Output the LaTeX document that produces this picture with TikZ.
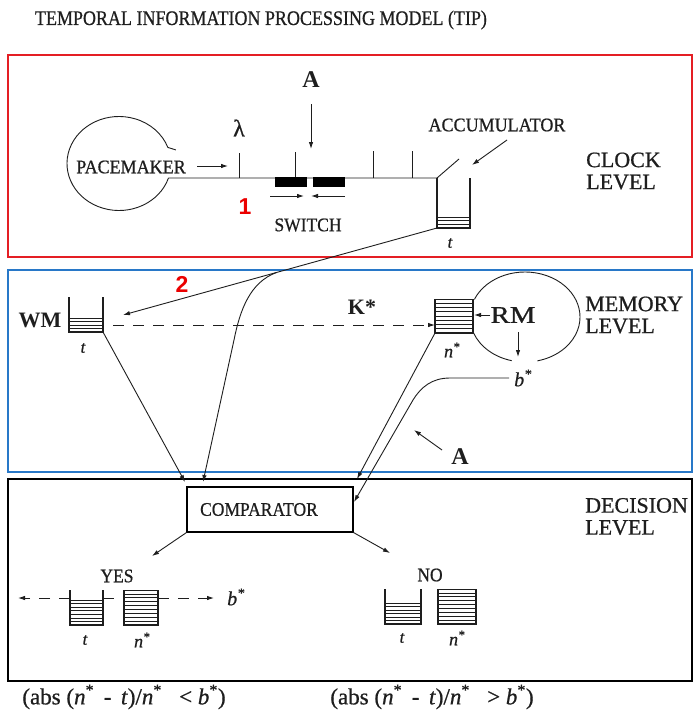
\documentclass[tikz,border=0pt]{standalone}
\usepackage{fontspec}
\setmainfont{Liberation Serif}[UprightFeatures={FakeBold=0.7},ItalicFeatures={FakeBold=0.7}]
\newfontfamily\labfont{Liberation Sans}
\usetikzlibrary{arrows.meta,calc}
\definecolor{boxred}{RGB}{228,30,36}
\definecolor{boxblue}{RGB}{40,120,200}
\definecolor{numred}{RGB}{235,0,0}
\definecolor{ink}{RGB}{30,30,30}
\newcommand{\tipbucket}[7]{%
 \coordinate (#1-tl) at (#2,#4);
 \coordinate (#1-tr) at (#3,#4);
 \coordinate (#1-bl) at (#2,#5);
 \coordinate (#1-br) at (#3,#5);
 \draw[wall] (#1-tl) -- (#1-bl) -- (#1-br) -- (#1-tr);
 \foreach \i in {1,...,#7}{\draw[fillline] (#2,{#5-\i*(#5-#6)/#7}) -- (#3,{#5-\i*(#5-#6)/#7});}
}
\begin{document}
\begin{tikzpicture}[x=1pt,y=-1pt,
  every node/.style={inner sep=0pt, text=ink},
  wall/.style={ink, line width=1.3pt},
  fillline/.style={ink, line width=0.6pt},
  conn/.style={ink, line width=0.9pt},
  arr/.style={conn, -{Latex[length=7pt,width=4.5pt]}},
  dasharr/.style={arr, dash pattern=on 11pt off 9pt},
  dashline/.style={conn, dash pattern=on 11pt off 9pt},
  small/.style={font=\fontsize{17.5}{20}\selectfont},
  lvl/.style={font=\fontsize{22}{22}\selectfont, align=left, anchor=west},
  bigA/.style={font=\fontsize{24}{24}\selectfont\bfseries},
  var/.style={font=\fontsize{18}{18}\selectfont\itshape},
  num/.style={font=\fontsize{23}{23}\selectfont\labfont\bfseries, text=numred},
  levelbox/.style={line width=1.3pt},
]
\useasboundingbox (0,0) rectangle (694,717);
\fill[white] (0,0) rectangle (694,717);

% title
\node[font=\fontsize{18}{18}\selectfont] (title) at (261,20) {\scalebox{1}[1.15]{TEMPORAL INFORMATION PROCESSING MODEL (TIP)}};

% level boxes
\draw[levelbox, boxred] (8,55) rectangle (692,257);
\draw[levelbox, boxblue] (8,270) rectangle (692,472);
\draw[levelbox, black] (8,479) rectangle (692,681);

% ---------------- clock level
\tipbucket{acc}{437}{470}{178}{228}{217}{3}
\coordinate (pmc) at (119,163.5);
\draw[conn] ($(pmc)+(18:52 and 47)$) coordinate (pmjoin) arc[start angle=18, end angle=340, x radius=52, y radius=47] -- ++(8,2.5);
\node[small] (pace) at (131,167) {\scalebox{1.03}[1.1]{PACEMAKER}};
\coordinate (pacea) at (197,166);
\coordinate (paceb) at (228,166);
\draw[arr] (pacea) -- (paceb);
\draw[conn] (pmjoin) -- (acc-tl);
% ticks
\coordinate (lamtick) at (239,178);
\coordinate (atick) at (295,178);
\coordinate (tick3) at (373,178);
\coordinate (tick4) at (412,178);
\draw[conn] (lamtick) -- ++(0,-25);
\draw[conn] (atick) -- ++(0,-26);
\draw[conn] (tick3) -- ++(0,-27);
\draw[conn] (tick4) -- ++(0,-27);
\node[font=\fontsize{24}{24}\selectfont] (lam) at (239,128) {λ};
% switch
\fill[black] (275,177) rectangle (307,187);
\fill[black] (313,177) rectangle (345,187);
\coordinate (swl1) at (270,196); \coordinate (swl2) at (304,196);
\coordinate (swr1) at (345,196); \coordinate (swr2) at (311,196);
\draw[arr] (swl1) -- (swl2);
\draw[arr] (swr1) -- (swr2);
\node[small] (switch) at (308,225) {\scalebox{1}[1.1]{SWITCH}};
\node[num] (one) at (245,207) {1};
% A arrow
\node[bigA] (Atop) at (311,80) {A};
\coordinate (Aend) at (311,149);
\draw[arr] (311,104) -- (Aend);
% accumulator
\draw[conn] (acc-tl) -- (459,159);
\node[small] (accl) at (497,125) {\scalebox{1.03}[1.1]{ACCUMULATOR}};
\coordinate (acca) at (507,140); \coordinate (accb) at (472,165);
\draw[arr] (acca) -- (accb);
\node[var, font=\fontsize{17}{17}\selectfont\itshape] (acct) at (450,243) {t};
\node[lvl] (clock) at (586,171) {CLOCK\\LEVEL};

% ---------------- memory level
\tipbucket{wm}{69}{103}{297}{332}{318}{4}
\node[font=\fontsize{22}{22}\selectfont\bfseries] (wmt) at (40,320) {WM};
\node[var, font=\fontsize{17}{17}\selectfont\itshape] (wmtl) at (83,348) {t};
\coordinate (wmin) at (123,315);
\draw[arr] (acc-bl) -- (wmin);
\node[num] (two) at (182,284) {2};
\tipbucket{rm}{435}{473}{299}{333}{299}{8}
\draw[dasharr] (113,325) -- (rm-bl |- 0,325);
\node[font=\fontsize{22}{22}\selectfont\bfseries] (kstar) at (362,307) {K*};
\node[var] (nstar1) at (452,350) {n\textsuperscript{*}};
\node[font=\fontsize{24}{24}\selectfont] (rmt) at (513,315) {\scalebox{1.2}[1]{RM}};
\coordinate (rma) at (490,315); \coordinate (rmb) at (474,315);
\draw[arr] (rma) -- (rmb);
\coordinate (rmd1) at (518,332); \coordinate (rmd2) at (518,357);
\draw[arr] (rmd1) -- (rmd2);
\coordinate (rmc) at (525,317);
\draw[conn] ($(rmc)+(203:55 and 45)$) arc[start angle=203,end angle=437,x radius=55,y radius=45];
\draw[conn] ($(rmc)+(159:55 and 45)$) arc[start angle=159,end angle=104,x radius=55,y radius=45];
\node[var, font=\fontsize{20}{20}\selectfont\itshape] (bstar1) at (523,378) {b\textsuperscript{*}};
\node[bigA] (Alow) at (460,457) {A};
\coordinate (Ala) at (442,450); \coordinate (Alb) at (414,430);
\draw[arr] (Ala) -- (Alb);
\node[lvl] (memory) at (585,315) {MEMORY\\LEVEL};

% ---------------- decision level
\node[draw, line width=1.1pt, minimum width=166pt, minimum height=45pt, small] (cmp) at (270,509.5) {\hspace*{-22pt}\scalebox{1}[1.1]{COMPARATOR}};
\coordinate (cin1) at (185,482);
\coordinate (cin2) at (203,482);
\coordinate (cin3) at (357,479);
\coordinate (cin4) at (354,502);
\draw[arr] (wm-br) -- (cin1);
\coordinate (branch) at ($(acc-bl)!0.51!(wmin)$);
\draw[arr] (branch) .. controls (250,282) and (240,310) .. (234,340) -- (cin2);
\draw[arr] (rm-bl) -- (cin3);
\draw[arr] (509,378) -- (450,378) .. controls (432,378) and (421,387) .. (413,400) -- (cin4);
\coordinate (yesto) at (152,556);
\coordinate (noto) at (390,553);
\draw[arr] (cmp.south west) -- (yesto);
\draw[arr] (cmp.south east) -- (noto);
\node[lvl] (decision) at (585,516.5) {DECISION\\LEVEL};

% YES
\node[small] (yes) at (117,576) {\scalebox{1}[1.1]{YES}};
\tipbucket{yt}{70}{103}{590}{625}{600}{7}
\tipbucket{yn}{124}{158}{590}{625}{590}{9}
\coordinate (yleft) at (18,598);
\coordinate (yright) at (214,598);
\draw[dasharr] (yt-bl |- 0,598) -- (yleft);
\draw[dashline] (yt-br |- 0,598) -- (yn-bl |- 0,598);
\draw[dasharr] (yn-br |- 0,598) -- (yright);
\node[var, font=\fontsize{20}{20}\selectfont\itshape] (bstar2) at (236,597) {b\textsuperscript{*}};
\node[var, font=\fontsize{17}{17}\selectfont\itshape] (ytl) at (85,640) {t};
\node[var] (ynl) at (142,640) {n\textsuperscript{*}};

% NO
\node[small] (no) at (430,575) {\scalebox{1}[1.1]{NO}};
\tipbucket{nt}{385}{421}{589}{624}{603}{6}
\tipbucket{nn}{438}{476}{589}{624}{589}{9}
\node[var, font=\fontsize{17}{17}\selectfont\itshape] (ntl) at (402,638) {t};
\node[var] (nnl) at (457,638) {n\textsuperscript{*}};

% formulas
\node[font=\fontsize{23}{23}\selectfont] (fyes) at (124,697) {(abs (\textit{n}\textsuperscript{*} \,-\, \textit{t})/\textit{n}\textsuperscript{*} \ \ < \textit{b}\textsuperscript{*})};
\node[font=\fontsize{23}{23}\selectfont] (fno) at (432,697) {(abs (\textit{n}\textsuperscript{*} \,-\, \textit{t})/\textit{n}\textsuperscript{*} \ \ > \textit{b}\textsuperscript{*})};
\end{tikzpicture}
\end{document}
